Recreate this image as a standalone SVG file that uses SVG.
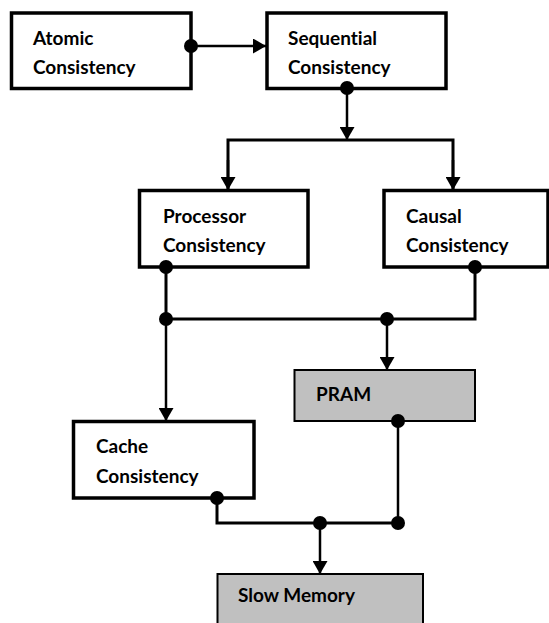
<svg xmlns="http://www.w3.org/2000/svg" width="549" height="623" viewBox="0 0 549 623">
<style>
.box{fill:#fff;stroke:#000;stroke-width:3.5}
.gbox{fill:#c0c0c0;stroke:#000;stroke-width:2}
.t{font-family:Lato,"Liberation Sans",sans-serif;font-weight:bold;font-size:19px;fill:#000;font-variant-ligatures:none;font-feature-settings:"liga" 0}
.c{fill:none;stroke:#000;stroke-width:2.5}
.d{fill:#000}
</style>
<defs>
<marker id="ah" viewBox="0 0 13 15" refX="13" refY="7.5" markerWidth="13" markerHeight="15" markerUnits="userSpaceOnUse" orient="auto">
<path d="M0,0 L13,7.5 L0,15 Z" fill="#000"/>
</marker>
</defs>
<rect width="549" height="623" fill="#fff"/>
<g id="atomic">
<rect class="box" x="11.5" y="13" width="179.5" height="75.5"/>
<text class="t" x="33" y="45">Atomic</text>
<text class="t" x="33" y="74">Consistency</text>
</g>
<g id="sequential">
<rect class="box" x="267" y="13" width="179" height="75.5"/>
<text class="t" x="288" y="45">Sequential</text>
<text class="t" x="288" y="74">Consistency</text>
</g>
<g id="processor">
<rect class="box" x="139.5" y="190.5" width="168.5" height="76.5"/>
<text class="t" x="163" y="223">Processor</text>
<text class="t" x="163" y="252">Consistency</text>
</g>
<g id="causal">
<rect class="box" x="384" y="190.5" width="164" height="76.5"/>
<text class="t" x="406" y="223">Causal</text>
<text class="t" x="406" y="252">Consistency</text>
</g>
<g id="pram">
<rect class="gbox" x="294.5" y="370" width="180.5" height="51"/>
<text class="t" x="316" y="401">PRAM</text>
</g>
<g id="cache">
<rect class="box" x="73.5" y="421.5" width="180.5" height="76.5"/>
<text class="t" x="96" y="453">Cache</text>
<text class="t" x="96" y="483">Consistency</text>
</g>
<g id="slowmemory">
<rect class="gbox" x="217.5" y="574" width="205.5" height="60"/>
<text class="t" x="238" y="602">Slow Memory</text>
</g>
<g id="connectors">
<path class="c" d="M191,46 H266" marker-end="url(#ah)"/>
<path class="c" d="M347,88 V140" marker-end="url(#ah)"/>
<path class="c" d="M228,190 V140 H453 V190" style="stroke-width:3"/>
<path class="c" d="M228,160 V190" marker-end="url(#ah)"/>
<path class="c" d="M453,160 V190" marker-end="url(#ah)"/>
<path class="c" d="M166,267 V319 H475 V267" style="stroke-width:3"/>
<path class="c" d="M166,319 V421" marker-end="url(#ah)"/>
<path class="c" d="M387,319 V370" marker-end="url(#ah)"/>
<path class="c" d="M398,421 V523"/>
<path class="c" d="M217,498 V523 H398" style="stroke-width:3"/>
<path class="c" d="M320,523 V574" marker-end="url(#ah)"/>
<circle class="d" cx="191" cy="46" r="7"/>
<circle class="d" cx="347" cy="88" r="7"/>
<circle class="d" cx="166" cy="267" r="7"/>
<circle class="d" cx="475" cy="267" r="7"/>
<circle class="d" cx="166" cy="319" r="7"/>
<circle class="d" cx="387" cy="319" r="7"/>
<circle class="d" cx="398" cy="421" r="7"/>
<circle class="d" cx="217" cy="498" r="7"/>
<circle class="d" cx="320" cy="523" r="7"/>
<circle class="d" cx="398" cy="523" r="7"/>
</g>
</svg>
